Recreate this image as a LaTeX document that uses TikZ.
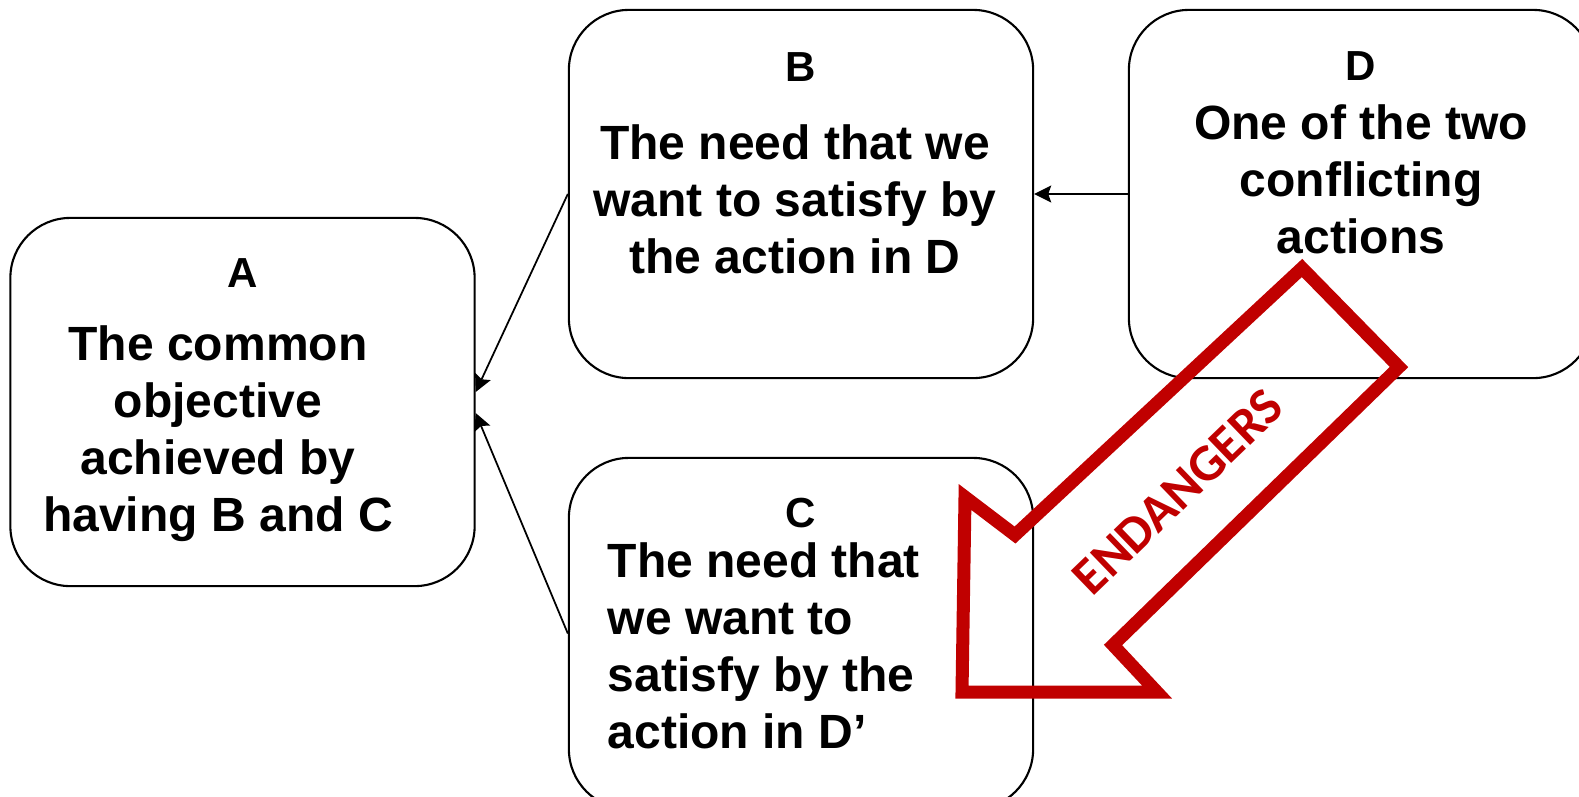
\documentclass[tikz,border=0pt]{standalone}
\usepackage{fontspec}
\setmainfont{Liberation Sans}
\newfontfamily\warnfont{Carlito}
\usepackage{tikz}
\usetikzlibrary{arrows.meta}
\definecolor{cloudred}{RGB}{192,0,0}
\tikzstyle{box} = [draw, line width=0.6pt, rounded corners=0.6cm, minimum width=4.64cm, minimum height=3.68cm]
\tikzstyle{arrow} = [line width=0.5pt, -{Stealth[length=0.17cm,width=0.17cm,inset=0.03cm]}]
\tikzstyle{txt} = [font=\fontsize{13.66}{16.2}\selectfont\bfseries, inner sep=0pt, align=center, anchor=north]
\tikzstyle{tag} = [font=\fontsize{11.95}{14}\selectfont\bfseries, inner sep=0pt, anchor=base]

\begin{document}
\begin{tikzpicture}[x=0.01cm, y=-0.01cm]
\useasboundingbox (0,0) rectangle (1579,796);

% The four boxes of the cloud
\node[box] (A) at (242.5,402) {};
\node[box] (B) at (801,194) {};
\node[box] (D) at (1361,194) {};
\node[box, minimum height=3.51cm] (C) at (801,633.5) {};

% Letters
\node[tag] (tagA) at (243,287) {A};
\node[tag] (tagB) at (801,81) {B};
\node[tag] (tagD) at (1361,80) {D};
\node[tag] (tagC) at (801,527) {C};

% Texts
\node[txt] (textA) at (218,325) {The common\\objective\\achieved by\\having B and C};
\node[txt] (textB) at (795,124) {The need that we\\want to satisfy by\\the action in D};
\node[txt] (textD) at (1361,104) {One of the two\\conflicting\\actions};
\node[txt, align=left, anchor=north west] (textC) at (607,542) {The need that\\we want to\\satisfy by the\\action in D’};

% Arrows
\draw[arrow] (B.west) -- ([yshift=0.1cm]A.east);
\draw[arrow] (C.west) -- ([yshift=-0.11cm]A.east);
\draw[arrow] (D.west) -- (B.east);

% Conflict arrow
\draw[cloudred, line width=0.13cm, line join=miter]
  (1302,268) -- (1399,367) -- (1113,645) -- (1157,692) -- (962,692)
  -- (965,497) -- (1015,535) -- cycle;
\node[text=cloudred, font=\warnfont\fontsize{14.8}{16}\selectfont\bfseries, rotate=44] (warn) at (1178,492) {ENDANGERS};
\end{tikzpicture}
\end{document}
